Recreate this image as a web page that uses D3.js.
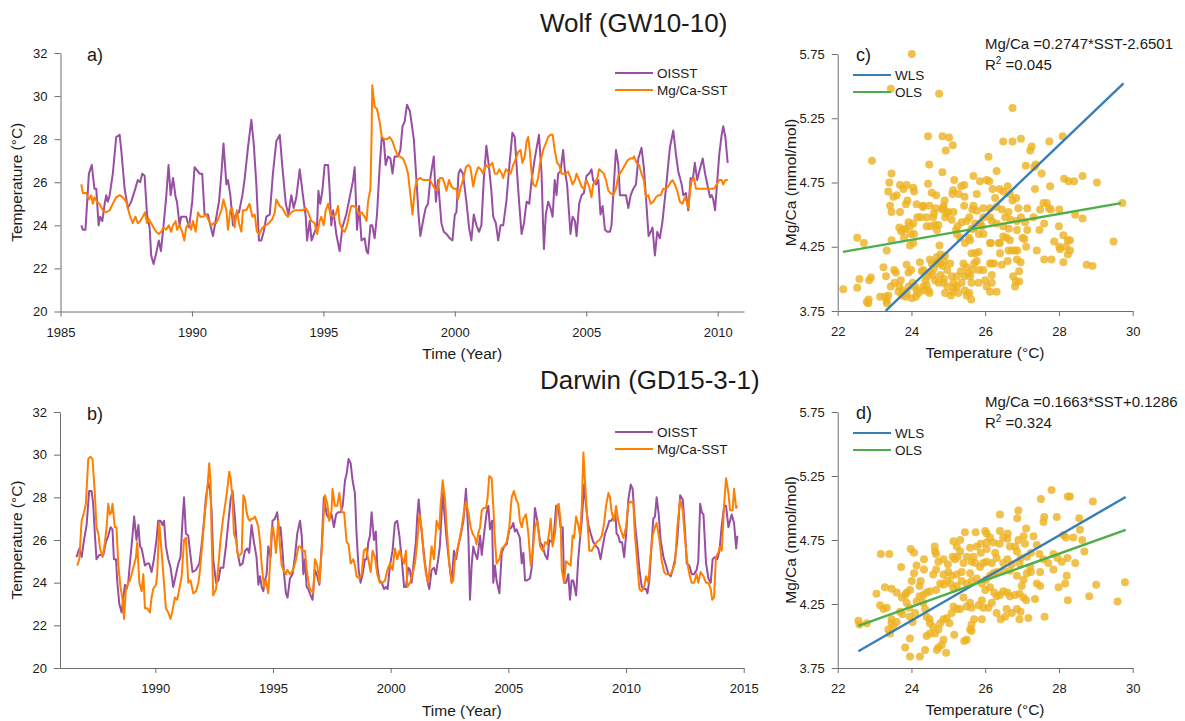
<!DOCTYPE html>
<html lang="en">
<head>
<meta charset="UTF-8">
<title>Wolf and Darwin Mg/Ca-SST</title>
<script src="https://d3js.org/d3.v7.min.js"></script>
<style>
body{margin:0;background:#fff;}
text{font-family:"Liberation Sans",Arial,Helvetica,sans-serif;fill:#1a1a1a;}
</style>
</head>
<body>
<svg id="fig" width="1185" height="721"></svg>
<script>
// ---- data: [year, temperature degC] ----
var wolfOisst = [[1985.79,24.0],[1985.85,23.8],[1985.95,23.8],[1986.08,26.4],[1986.19,26.8],[1986.29,25.7],[1986.36,25.7],[1986.45,24.0],[1986.51,24.4],[1986.59,24.2],[1986.68,25.0],[1986.74,25.4],[1986.80,25.1],[1986.87,25.4],[1986.99,26.4],[1987.12,28.1],[1987.25,28.2],[1987.31,27.5],[1987.44,25.7],[1987.56,24.8],[1987.69,25.1],[1987.82,25.6],[1987.94,26.1],[1988.03,26.0],[1988.11,26.4],[1988.20,26.3],[1988.29,24.5],[1988.39,23.9],[1988.45,22.6],[1988.54,22.2],[1988.64,22.7],[1988.74,23.3],[1988.82,22.8],[1988.92,24.0],[1989.02,25.3],[1989.11,26.8],[1989.19,25.4],[1989.28,26.2],[1989.38,25.3],[1989.43,25.1],[1989.53,24.0],[1989.59,24.4],[1989.78,24.4],[1989.89,23.9],[1990.01,25.1],[1990.10,26.7],[1990.29,26.4],[1990.39,26.4],[1990.48,24.5],[1990.61,24.5],[1990.70,24.0],[1990.80,23.5],[1990.90,24.2],[1991.03,25.1],[1991.12,26.4],[1991.20,27.8],[1991.31,25.9],[1991.37,26.1],[1991.46,25.4],[1991.56,24.0],[1991.66,24.5],[1991.79,24.6],[1991.92,25.4],[1992.00,26.1],[1992.13,27.6],[1992.26,28.9],[1992.35,27.8],[1992.45,25.9],[1992.55,23.3],[1992.64,23.3],[1992.73,23.7],[1992.83,24.4],[1992.96,24.5],[1993.08,26.4],[1993.21,27.9],[1993.34,28.2],[1993.44,26.7],[1993.57,25.0],[1993.67,24.5],[1993.78,25.4],[1993.87,24.8],[1993.97,25.3],
[1994.10,26.6],[1994.22,25.4],[1994.33,24.4],[1994.38,23.3],[1994.48,24.2],[1994.55,23.3],[1994.67,23.7],[1994.76,24.0],[1994.81,25.6],[1994.88,25.0],[1994.96,25.6],[1995.05,26.8],[1995.18,26.8],[1995.24,25.6],[1995.30,24.0],[1995.37,24.7],[1995.43,24.2],[1995.49,23.6],[1995.62,22.8],[1995.72,23.9],[1995.87,24.5],[1996.00,25.3],[1996.13,26.1],[1996.19,26.7],[1996.28,23.8],[1996.36,24.9],[1996.45,23.3],[1996.57,23.4],[1996.64,22.8],[1996.70,22.7],[1996.79,24.0],[1996.86,24.0],[1996.95,23.4],[1997.04,24.5],[1997.14,26.7],[1997.22,28.1],[1997.30,27.9],[1997.37,26.8],[1997.46,27.2],[1997.55,27.1],[1997.63,26.4],[1997.71,27.2],[1997.84,27.2],[1997.93,27.5],[1998.01,28.6],[1998.09,28.8],[1998.18,29.6],[1998.29,29.3],[1998.44,28.0],[1998.54,26.1],[1998.62,24.5],[1998.69,23.5],[1998.79,24.2],[1998.89,24.8],[1998.98,25.0],[1999.07,26.2],[1999.20,27.2],[1999.28,25.1],[1999.36,26.1],[1999.49,24.1],[1999.58,23.7],[1999.68,23.6],[1999.81,23.4],[1999.91,23.3],[2000.00,24.5],[2000.06,24.6],[2000.14,26.4],[2000.21,26.6],[2000.31,26.4],[2000.44,25.1],[2000.54,23.9],[2000.63,23.3],[2000.72,24.5],[2000.82,24.0],[2000.92,23.7],[2001.01,24.0],[2001.10,26.1],[2001.20,27.7],[2001.30,26.7],[2001.39,25.6],[2001.46,24.4],[2001.56,24.1],[2001.65,23.3],[2001.74,24.0],[2001.84,24.0],[2001.96,25.1],[2002.07,26.7],[2002.19,28.3],[2002.28,28.1],[2002.37,26.4],[2002.45,25.0],[2002.54,23.6],[2002.63,24.1],[2002.73,25.1],[2002.83,25.0],[2002.92,26.1],[2003.04,27.1],[2003.20,28.2],
[2003.30,26.4],[2003.36,23.9],[2003.39,22.9],[2003.46,24.5],[2003.55,25.1],[2003.64,24.8],[2003.72,24.4],[2003.80,26.1],[2003.87,25.4],[2003.93,26.4],[2004.02,26.5],[2004.12,27.5],[2004.19,26.5],[2004.27,25.9],[2004.35,24.5],[2004.40,23.6],[2004.48,24.4],[2004.57,24.2],[2004.63,23.5],[2004.73,25.0],[2004.82,25.4],[2004.91,25.5],[2005.01,26.3],[2005.11,26.4],[2005.20,26.6],[2005.26,26.1],[2005.37,25.9],[2005.46,26.1],[2005.54,24.5],[2005.62,24.9],[2005.71,23.8],[2005.80,23.7],[2005.90,23.7],[2005.96,24.0],[2006.05,25.9],[2006.13,27.5],[2006.22,26.8],[2006.28,25.4],[2006.38,25.4],[2006.51,25.4],[2006.60,24.8],[2006.69,25.4],[2006.79,25.7],[2006.89,25.9],[2006.98,27.1],[2007.10,27.6],[2007.19,26.7],[2007.27,25.3],[2007.37,23.5],[2007.45,23.7],[2007.52,23.9],[2007.61,22.6],[2007.70,23.7],[2007.80,23.4],[2007.90,24.2],[2008.03,25.7],[2008.18,27.6],[2008.31,28.4],[2008.41,27.3],[2008.50,26.5],[2008.63,25.9],[2008.69,25.4],[2008.79,25.5],[2008.88,24.7],[2008.97,26.2],[2009.05,26.1],[2009.13,26.9],[2009.22,26.1],[2009.32,26.6],[2009.43,27.1],[2009.52,26.4],[2009.64,25.7],[2009.71,25.3],[2009.77,25.4],[2009.83,25.2],[2009.90,24.7],[2009.96,25.7],[2010.06,27.3],[2010.15,28.2],[2010.21,28.6],[2010.29,28.1],[2010.38,26.9]];

var wolfMgSst = [[1985.79,25.9],[1985.85,25.5],[1985.98,25.5],[1986.08,25.2],[1986.17,25.4],[1986.23,25.0],[1986.29,25.3],[1986.38,25.1],[1986.48,25.0],[1986.61,24.7],[1986.74,24.6],[1986.87,24.7],[1986.99,25.0],[1987.12,25.3],[1987.25,25.4],[1987.37,25.3],[1987.50,25.1],[1987.56,24.8],[1987.65,24.4],[1987.75,24.1],[1987.85,24.4],[1987.94,24.1],[1988.03,24.2],[1988.13,24.4],[1988.21,24.6],[1988.29,24.1],[1988.36,24.3],[1988.45,24.1],[1988.54,23.9],[1988.64,23.7],[1988.74,23.6],[1988.83,23.7],[1988.92,23.9],[1989.02,23.8],[1989.12,24.0],[1989.21,23.7],[1989.28,24.0],[1989.38,24.2],[1989.43,23.8],[1989.53,24.0],[1989.63,23.7],[1989.71,23.3],[1989.78,23.9],[1989.89,24.1],[1989.97,23.8],[1990.04,24.2],[1990.14,23.7],[1990.23,24.6],[1990.32,24.4],[1990.42,24.4],[1990.54,24.5],[1990.65,24.2],[1990.74,24.0],[1990.82,24.1],[1990.93,24.1],[1991.03,24.4],[1991.12,24.7],[1991.20,25.2],[1991.31,24.7],[1991.37,23.8],[1991.46,24.7],[1991.53,24.8],[1991.62,23.9],[1991.71,24.7],[1991.79,24.1],[1991.88,23.7],[1991.94,24.7],[1992.07,24.7],[1992.19,25.0],[1992.30,24.4],[1992.39,24.5],[1992.47,23.7],[1992.57,23.6],[1992.68,23.9],[1992.80,24.0],[1992.93,24.1],[1993.06,24.3],[1993.15,24.6],[1993.21,25.2],[1993.34,24.9],[1993.44,24.8],[1993.57,24.5],[1993.65,24.4],[1993.78,24.6],[1993.91,24.7],[1994.00,24.7],
[1994.10,24.7],[1994.22,24.7],[1994.33,24.8],[1994.42,24.6],[1994.54,24.2],[1994.67,24.1],[1994.76,23.6],[1994.86,24.2],[1994.92,24.4],[1995.01,24.0],[1995.09,24.7],[1995.18,25.0],[1995.27,24.5],[1995.37,24.4],[1995.47,24.5],[1995.56,24.9],[1995.62,24.1],[1995.72,23.8],[1995.81,23.7],[1995.90,24.0],[1995.98,24.5],[1996.06,24.9],[1996.15,24.9],[1996.25,24.8],[1996.36,24.5],[1996.45,24.6],[1996.57,24.4],[1996.64,24.2],[1996.70,25.1],[1996.79,25.7],[1996.83,27.9],[1996.86,30.5],[1996.95,29.5],[1997.04,29.4],[1997.14,28.8],[1997.22,28.1],[1997.33,28.0],[1997.42,28.0],[1997.52,28.1],[1997.63,27.9],[1997.71,27.6],[1997.80,27.3],[1997.90,27.2],[1998.03,27.1],[1998.13,26.8],[1998.22,26.4],[1998.31,25.4],[1998.39,24.5],[1998.48,25.7],[1998.56,26.1],[1998.69,26.2],[1998.79,26.1],[1998.89,26.1],[1999.05,26.1],[1999.15,25.9],[1999.24,25.7],[1999.33,25.6],[1999.43,26.2],[1999.53,26.2],[1999.62,25.9],[1999.68,25.6],[1999.78,26.1],[1999.87,25.8],[1999.96,25.7],[2000.06,25.7],[2000.12,25.2],[2000.21,25.7],[2000.31,26.1],[2000.42,26.7],[2000.51,26.8],[2000.59,26.7],[2000.70,25.8],[2000.80,26.4],[2000.89,26.7],[2000.98,26.6],[2001.08,26.4],[2001.18,26.8],[2001.27,26.7],[2001.36,26.8],[2001.43,26.9],[2001.52,26.4],[2001.61,26.4],[2001.69,26.6],[2001.78,26.4],[2001.84,26.2],[2001.94,26.6],[2002.03,26.5],[2002.12,26.4],[2002.22,26.8],[2002.32,27.1],[2002.41,27.4],[2002.50,27.5],[2002.57,26.9],[2002.66,27.2],[2002.73,27.9],[2002.79,28.1],[2002.85,27.5],[2002.92,26.4],[2002.98,25.9],[2003.08,25.8],[2003.17,26.2],
[2003.23,26.8],[2003.36,27.5],[2003.46,27.8],[2003.55,28.1],[2003.64,28.2],[2003.72,28.2],[2003.80,27.5],[2003.89,26.9],[2003.97,26.8],[2004.06,26.4],[2004.12,26.4],[2004.22,26.4],[2004.31,26.5],[2004.40,26.2],[2004.48,25.9],[2004.57,26.1],[2004.63,26.4],[2004.73,26.1],[2004.82,25.8],[2004.91,25.7],[2005.01,26.1],[2005.11,25.8],[2005.20,25.3],[2005.26,25.9],[2005.33,26.0],[2005.42,26.2],[2005.49,26.6],[2005.58,26.5],[2005.67,26.4],[2005.75,26.1],[2005.84,25.6],[2005.92,25.5],[2006.03,25.4],[2006.13,25.7],[2006.22,26.3],[2006.28,26.4],[2006.38,26.6],[2006.47,26.8],[2006.56,27.0],[2006.66,27.1],[2006.76,27.1],[2006.82,27.2],[2006.91,26.9],[2007.01,26.8],[2007.10,26.4],[2007.19,26.1],[2007.27,25.3],[2007.36,25.4],[2007.45,25.0],[2007.55,25.1],[2007.65,25.3],[2007.74,25.4],[2007.83,25.4],[2007.93,25.7],[2008.03,25.7],[2008.12,25.8],[2008.21,26.0],[2008.28,26.1],[2008.37,25.9],[2008.46,25.6],[2008.56,25.1],[2008.66,25.0],[2008.75,25.3],[2008.82,25.1],[2008.88,24.8],[2008.94,25.5],[2009.01,26.1],[2009.10,26.2],[2009.17,25.7],[2009.26,25.7],[2009.39,25.7],[2009.51,25.7],[2009.64,25.7],[2009.77,25.7],[2009.86,25.7],[2009.96,25.9],[2010.06,26.1],[2010.15,26.1],[2010.21,25.9],[2010.29,26.1],[2010.38,26.1]];

var darwinOisst = [[1986.65,25.2],[1986.77,25.6],[1986.87,25.2],[1986.97,26.0],[1987.08,26.7],[1987.19,28.3],[1987.29,28.3],[1987.36,27.7],[1987.43,26.3],[1987.50,25.1],[1987.62,25.3],[1987.72,25.3],[1987.79,25.3],[1987.90,25.9],[1988.00,26.2],[1988.10,26.6],[1988.18,26.5],[1988.24,25.1],[1988.33,25.1],[1988.38,24.1],[1988.47,23.0],[1988.57,22.6],[1988.64,23.3],[1988.71,23.9],[1988.78,23.7],[1988.85,24.0],[1988.92,24.9],[1989.03,26.2],[1989.10,27.1],[1989.20,26.0],[1989.28,26.7],[1989.35,25.7],[1989.42,25.6],[1989.49,25.2],[1989.56,24.8],[1989.66,24.9],[1989.74,24.9],[1989.84,24.5],[1989.94,25.1],[1990.05,26.0],[1990.12,26.9],[1990.22,26.9],[1990.31,26.7],[1990.37,26.9],[1990.45,25.7],[1990.55,25.1],[1990.65,24.7],[1990.76,23.8],[1990.88,24.4],[1990.98,24.9],[1991.07,25.2],[1991.16,27.0],[1991.22,28.0],[1991.30,26.3],[1991.40,26.2],[1991.47,25.5],[1991.58,24.5],[1991.73,24.6],[1991.87,24.9],[1991.97,25.8],[1992.07,26.9],[1992.15,28.0],[1992.25,28.7],[1992.32,28.4],[1992.39,27.4],[1992.46,25.1],[1992.58,24.0],[1992.68,24.1],[1992.77,24.7],[1992.89,24.7],[1993.00,25.7],[1993.10,26.8],[1993.20,27.9],[1993.28,28.3],[1993.38,27.1],[1993.48,25.5],[1993.60,24.8],[1993.71,24.9],[1993.81,25.5],[1993.91,25.6],[1993.99,25.4],[1994.09,26.7],[1994.19,25.9],[1994.30,25.2],[1994.38,23.9],[1994.45,24.3],[1994.52,23.8],[1994.59,23.6],[1994.66,24.1],[1994.73,24.4],[1994.80,25.7],[1994.90,25.2],[1994.98,26.9],[1995.08,27.0],[1995.18,27.3],[1995.27,26.2],[1995.32,26.6],[1995.41,25.4],[1995.47,24.4],[1995.55,23.5],[1995.62,23.3],[1995.72,24.2],[1995.83,24.4],[1995.93,25.2],[1996.03,26.3],
[1996.15,26.9],[1996.22,26.2],[1996.29,24.4],[1996.36,25.1],[1996.43,23.8],[1996.50,23.7],[1996.60,23.4],[1996.68,23.2],[1996.78,24.6],[1996.88,24.3],[1996.97,23.9],[1997.07,25.7],[1997.16,28.0],[1997.28,27.2],[1997.39,27.0],[1997.49,27.2],[1997.59,26.6],[1997.68,27.2],[1997.77,27.3],[1997.87,27.3],[1997.96,27.6],[1998.06,28.8],[1998.13,29.1],[1998.21,29.8],[1998.30,29.6],[1998.38,28.8],[1998.48,28.2],[1998.55,26.3],[1998.64,24.6],[1998.72,24.0],[1998.81,24.4],[1998.91,25.1],[1998.98,25.1],[1999.05,25.9],[1999.12,26.2],[1999.19,27.3],[1999.29,26.0],[1999.37,26.4],[1999.43,24.8],[1999.52,24.1],[1999.62,24.0],[1999.72,23.7],[1999.80,23.8],[1999.87,23.7],[1999.97,24.8],[2000.08,25.5],[2000.18,26.8],[2000.28,26.9],[2000.37,26.2],[2000.47,25.1],[2000.57,23.8],[2000.65,23.8],[2000.75,24.7],[2000.82,24.6],[2000.89,24.0],[2000.99,25.1],[2001.07,25.9],[2001.13,27.1],[2001.19,27.9],[2001.27,26.9],[2001.36,25.9],[2001.46,24.9],[2001.56,24.1],[2001.64,23.7],[2001.74,24.6],[2001.84,24.7],[2001.92,24.4],[2002.02,25.1],[2002.09,25.7],[2002.21,28.2],[2002.31,26.9],[2002.38,26.0],[2002.49,24.9],[2002.59,24.0],[2002.69,25.5],[2002.78,25.1],[2002.87,25.7],[2002.97,26.2],[2003.09,26.9],[2003.20,28.4],[2003.30,26.3],[2003.37,23.2],[2003.44,24.8],[2003.51,25.7],[2003.58,25.4],[2003.68,25.1],[2003.80,26.2],[2003.87,25.3],[2003.97,26.3],[2004.08,27.3],[2004.15,27.6],[2004.22,26.5],[2004.31,26.9],[2004.36,24.0],[2004.43,24.8],[2004.50,24.1],[2004.62,23.5],[2004.72,25.4],[2004.82,25.7],[2004.93,25.8],[2005.04,26.5],[2005.14,26.6],[2005.21,26.8],[2005.28,26.4],[2005.35,26.5],[2005.42,26.3],[2005.49,26.1],[2005.57,24.9],[2005.64,25.4],[2005.71,24.1],[2005.78,24.1],[2005.92,24.2],[2005.99,24.7],[2006.06,26.0],[2006.13,27.5],[2006.23,26.9],
[2006.35,25.9],[2006.46,25.7],[2006.56,25.3],[2006.66,25.1],[2006.74,26.0],[2006.84,25.9],[2006.94,26.3],[2007.03,27.6],[2007.12,27.6],[2007.22,26.6],[2007.31,26.6],[2007.37,24.0],[2007.45,24.0],[2007.55,24.4],[2007.62,23.2],[2007.69,24.1],[2007.76,24.1],[2007.88,23.4],[2007.97,25.1],[2008.04,26.0],[2008.12,26.9],[2008.22,28.6],[2008.30,27.6],[2008.40,26.7],[2008.50,26.3],[2008.61,25.9],[2008.73,25.7],[2008.82,25.6],[2008.92,25.1],[2009.01,25.7],[2009.11,26.3],[2009.21,26.6],[2009.29,26.9],[2009.38,26.9],[2009.46,27.1],[2009.55,27.2],[2009.60,26.3],[2009.67,26.2],[2009.74,25.9],[2009.83,25.9],[2009.92,25.2],[2010.00,26.2],[2010.10,27.9],[2010.20,28.6],[2010.28,28.4],[2010.38,26.8],[2010.48,25.7],[2010.57,24.6],[2010.67,23.8],[2010.74,23.7],[2010.85,23.7],[2010.91,23.5],[2010.99,24.1],[2011.09,25.9],[2011.16,27.0],[2011.23,27.1],[2011.30,28.0],[2011.39,27.2],[2011.47,26.0],[2011.59,25.2],[2011.70,24.8],[2011.80,24.4],[2011.90,24.3],[2011.98,24.6],[2012.08,25.1],[2012.18,26.0],[2012.30,28.1],[2012.41,27.9],[2012.51,26.4],[2012.58,24.9],[2012.69,24.8],[2012.79,24.4],[2012.89,24.4],[2013.00,24.6],[2013.07,25.0],[2013.15,27.7],[2013.22,27.3],[2013.29,27.2],[2013.40,24.9],[2013.50,24.2],[2013.60,24.0],[2013.68,25.1],[2013.78,25.2],[2013.88,25.1],[2013.97,25.5],[2014.07,26.7],[2014.17,27.6],[2014.25,27.6],[2014.35,26.6],[2014.42,26.9],[2014.49,27.2],[2014.59,26.8],[2014.68,25.6],[2014.73,26.2]];

var darwinMgSst = [[1986.68,24.8],[1986.77,25.1],[1986.87,26.9],[1986.97,27.3],[1987.05,27.7],[1987.15,29.8],[1987.25,29.9],[1987.33,29.8],[1987.43,28.2],[1987.50,26.6],[1987.58,26.3],[1987.65,25.6],[1987.76,25.2],[1987.86,25.9],[1987.93,26.6],[1988.00,27.7],[1988.07,27.2],[1988.14,27.3],[1988.18,27.7],[1988.28,26.6],[1988.35,26.6],[1988.43,24.8],[1988.52,23.8],[1988.61,23.2],[1988.67,22.3],[1988.75,23.7],[1988.85,24.0],[1988.92,24.1],[1988.99,24.4],[1989.09,24.8],[1989.18,25.2],[1989.23,25.9],[1989.32,24.0],[1989.42,23.6],[1989.49,24.4],[1989.56,22.8],[1989.66,22.8],[1989.77,22.6],[1989.84,23.3],[1989.91,23.7],[1990.03,23.9],[1990.08,24.4],[1990.17,26.8],[1990.27,25.4],[1990.34,24.4],[1990.45,22.8],[1990.55,22.6],[1990.65,22.3],[1990.73,22.7],[1990.83,23.3],[1990.93,23.2],[1991.02,23.7],[1991.12,24.3],[1991.22,26.0],[1991.30,26.1],[1991.40,24.0],[1991.50,24.1],[1991.61,23.5],[1991.73,23.6],[1991.83,24.0],[1991.90,24.6],[1992.01,26.0],[1992.11,27.3],[1992.21,28.4],[1992.29,29.6],[1992.35,28.7],[1992.39,26.3],[1992.46,23.4],[1992.58,23.7],[1992.68,24.8],[1992.77,26.0],[1992.89,27.1],[1992.96,27.6],[1993.06,28.4],[1993.14,29.2],[1993.20,28.9],[1993.28,27.9],[1993.34,26.3],[1993.43,26.0],[1993.52,25.2],[1993.60,25.3],[1993.67,25.4],[1993.74,28.1],[1993.81,27.9],[1993.88,27.3],[1993.95,27.0],[1994.02,26.9],[1994.09,27.0],[1994.16,27.0],[1994.23,27.1],[1994.30,26.9],[1994.38,26.6],[1994.45,25.9],[1994.52,24.8],[1994.62,23.8],[1994.70,24.1],[1994.80,23.5],[1994.87,24.8],[1994.94,26.5],[1995.01,26.6],[1995.13,25.4],[1995.22,26.9],[1995.30,25.7],[1995.37,24.8],[1995.44,24.6],[1995.55,24.4],[1995.61,24.6],[1995.72,24.4],[1995.86,24.6],[1995.98,25.1],[1996.08,25.7],
[1996.15,25.7],[1996.26,25.5],[1996.36,25.5],[1996.43,24.6],[1996.54,23.8],[1996.64,23.6],[1996.71,23.5],[1996.78,25.1],[1996.88,24.8],[1996.97,24.0],[1997.07,25.5],[1997.14,26.9],[1997.21,28.1],[1997.31,27.7],[1997.39,26.9],[1997.49,27.4],[1997.53,28.4],[1997.63,27.6],[1997.73,27.6],[1997.82,28.2],[1997.92,27.3],[1998.02,27.3],[1998.13,25.9],[1998.21,25.8],[1998.30,24.9],[1998.41,25.1],[1998.48,24.8],[1998.55,24.3],[1998.67,24.2],[1998.77,24.4],[1998.86,25.5],[1998.95,25.6],[1999.05,25.1],[1999.15,24.5],[1999.23,25.5],[1999.33,25.2],[1999.43,24.4],[1999.54,24.0],[1999.66,24.0],[1999.76,24.1],[1999.86,24.6],[1999.97,24.9],[2000.08,24.6],[2000.18,25.6],[2000.28,25.1],[2000.37,25.5],[2000.47,25.2],[2000.57,24.9],[2000.65,25.5],[2000.71,23.8],[2000.82,24.0],[2000.93,24.4],[2001.03,24.9],[2001.13,25.9],[2001.22,27.2],[2001.32,26.5],[2001.39,25.4],[2001.50,24.4],[2001.60,24.0],[2001.67,24.9],[2001.74,25.7],[2001.84,25.1],[2001.95,26.9],[2002.07,26.5],[2002.12,27.6],[2002.21,28.8],[2002.31,27.9],[2002.38,26.6],[2002.49,24.9],[2002.59,24.0],[2002.66,24.1],[2002.73,25.1],[2002.80,25.4],[2002.92,26.0],[2003.02,26.6],[2003.11,27.3],[2003.20,27.8],[2003.30,27.3],[2003.40,26.6],[2003.48,26.3],[2003.58,26.1],[2003.65,25.8],[2003.72,26.3],[2003.80,26.6],[2003.87,27.4],[2003.96,27.5],[2004.05,27.5],[2004.11,27.9],[2004.19,29.0],[2004.29,28.9],[2004.36,27.6],[2004.43,26.0],[2004.50,24.9],[2004.62,25.1],[2004.72,25.6],[2004.82,25.7],[2004.93,25.9],[2005.04,26.6],[2005.14,28.0],[2005.24,28.3],[2005.33,27.9],[2005.42,27.7],[2005.49,26.9],[2005.57,26.6],[2005.64,27.0],[2005.75,27.2],[2005.85,26.3],[2005.95,24.8],[2006.03,25.4],[2006.13,26.6],[2006.23,26.9],
[2006.35,25.7],[2006.46,25.5],[2006.56,25.9],[2006.66,25.8],[2006.74,26.4],[2006.80,27.0],[2006.88,25.7],[2006.98,26.3],[2007.08,27.6],[2007.14,27.7],[2007.22,26.9],[2007.27,24.6],[2007.37,24.0],[2007.45,25.0],[2007.55,24.9],[2007.65,24.8],[2007.73,26.2],[2007.79,26.1],[2007.88,27.1],[2007.97,26.7],[2008.05,26.2],[2008.12,27.6],[2008.19,30.1],[2008.26,28.7],[2008.33,27.4],[2008.44,25.5],[2008.54,25.5],[2008.64,25.7],[2008.75,25.9],[2008.87,26.0],[2008.97,26.2],[2009.07,26.8],[2009.15,27.6],[2009.25,28.2],[2009.32,28.0],[2009.39,27.3],[2009.49,26.9],[2009.58,27.6],[2009.67,26.9],[2009.77,26.5],[2009.89,26.1],[2010.00,26.6],[2010.10,27.7],[2010.20,27.8],[2010.31,27.7],[2010.38,26.2],[2010.48,24.9],[2010.57,23.7],[2010.67,23.6],[2010.77,23.8],[2010.85,24.3],[2010.95,24.0],[2011.02,25.0],[2011.13,26.2],[2011.23,26.6],[2011.30,26.8],[2011.42,26.0],[2011.52,25.0],[2011.62,24.5],[2011.70,24.4],[2011.80,24.4],[2011.90,24.4],[2011.98,24.6],[2012.08,24.9],[2012.18,26.6],[2012.30,27.9],[2012.41,27.4],[2012.51,26.0],[2012.61,24.9],[2012.69,24.4],[2012.79,24.0],[2012.89,24.0],[2013.00,24.4],[2013.07,24.0],[2013.17,24.5],[2013.29,24.3],[2013.40,24.0],[2013.50,24.0],[2013.60,23.7],[2013.66,23.2],[2013.74,23.3],[2013.82,25.2],[2013.92,25.4],[2013.99,25.7],[2014.07,25.5],[2014.17,27.7],[2014.25,28.9],[2014.35,28.2],[2014.42,27.4],[2014.53,27.4],[2014.59,28.4],[2014.68,27.5],[2014.73,27.6]];

// ---- data: [temperature degC, Mg/Ca mmol/mol] ----
var wolfPts = [[24.01,5.75],[23.44,5.48],[24.75,5.44],[26.74,5.33],[22.93,4.92],[24.45,5.11],[24.84,5.11],[25.02,5.10],[25.12,5.04],[26.49,5.07],[26.74,5.07],[26.97,5.09],[27.26,5.03],[27.74,5.07],[28.10,5.11],[26.09,4.95],[24.93,5.00],[24.48,4.89],[24.84,4.83],[23.46,4.82],[26.31,4.84],[27.10,4.88],[27.37,4.89],[27.22,5.00],[27.53,4.82],
[23.37,4.68],[23.40,4.75],[23.69,4.73],[23.87,4.73],[24.05,4.71],[24.07,4.68],[23.60,4.65],[23.78,4.70],[23.89,4.61],[23.51,4.64],[23.42,4.57],[23.46,4.52],[23.69,4.52],[23.85,4.58],[24.14,4.58],[24.32,4.57],[24.45,4.74],[24.55,4.67],[24.67,4.65],[24.66,4.55],[24.83,4.54],[24.87,4.57],[25.00,4.52],[25.16,4.77],[25.43,4.73],[25.35,4.72],[25.13,4.69],[25.11,4.66],[25.28,4.66],[25.43,4.57],[25.44,4.64],[25.68,4.80],[25.77,4.66],[25.86,4.76],[26.04,4.77],[26.11,4.76],[26.20,4.70],[26.27,4.63],[26.39,4.70],[26.49,4.68],[26.61,4.72],[26.67,4.66],[26.74,4.61],[26.84,4.63],[26.90,4.55],[27.14,4.55],[27.33,4.87],[27.35,4.70],[27.76,4.72],[28.14,4.78],[28.26,4.76],[28.41,4.76],[28.64,4.80],[29.03,4.75],[27.73,4.55],[27.58,4.59],[27.67,4.59],[27.49,4.54],[25.68,4.57],[25.65,4.54],[25.77,4.53],[25.95,4.55],[26.13,4.55],[26.31,4.56],
[22.53,4.32],[22.71,4.28],[23.46,4.30],[23.80,4.32],[23.98,4.35],[24.05,4.28],[23.96,4.26],[23.72,4.37],[23.67,4.40],[23.78,4.38],[23.83,4.39],[23.92,4.44],[23.96,4.41],[24.41,4.48],[24.52,4.41],[24.64,4.42],[24.73,4.42],[24.91,4.48],[25.09,4.46],[25.14,4.52],[25.25,4.41],[25.36,4.44],[25.50,4.45],[25.57,4.48],[25.63,4.39],[25.73,4.43],[25.86,4.43],[25.95,4.48],[26.13,4.48],[26.18,4.45],[26.31,4.43],[26.45,4.54],[26.54,4.48],[26.63,4.52],[26.69,4.46],[26.86,4.45],[26.97,4.48],[27.08,4.44],[27.14,4.38],[27.31,4.48],[27.47,4.38],[27.60,4.43],[27.78,4.54],[28.00,4.41],[28.01,4.54],[28.44,4.50],[28.64,4.47],[29.72,4.59],[29.48,4.29],[28.12,4.34],[28.24,4.30],[28.30,4.30],[27.87,4.29],[28.03,4.23],[28.19,4.25],[28.30,4.22],[27.60,4.15],[28.12,4.13],[28.75,4.11],[28.91,4.10],[28.24,4.19],
[22.15,3.92],[22.53,3.93],[22.59,4.00],[22.85,3.99],[22.90,4.01],[22.84,3.84],[23.24,4.09],[23.31,4.02],[23.33,4.22],[23.29,3.86],[23.33,3.83],[23.44,3.94],[23.53,4.07],[23.58,4.05],[23.67,3.94],[23.65,3.90],[23.71,3.99],[23.76,3.91],[23.87,4.11],[23.92,4.05],[23.99,4.07],[23.85,3.86],[24.01,3.85],[24.12,3.86],[24.14,3.91],[24.23,4.13],[24.28,4.06],[24.32,3.94],[24.41,3.95],[24.46,3.91],[24.49,3.89],[24.38,3.99],[24.43,4.02],[24.50,4.05],[24.58,4.03],[24.61,4.08],[24.67,4.12],[24.73,4.14],[24.69,4.17],[24.78,4.12],[24.79,4.19],[24.85,4.10],[24.88,4.14],[24.88,4.00],[24.97,4.07],[24.91,4.18],[25.05,4.12],[25.09,4.02],[25.14,3.97],[25.16,3.93],[25.23,3.94],[25.27,3.89],[25.36,3.97],[25.41,4.12],[25.44,4.02],[25.50,4.09],[25.54,4.04],[25.59,4.02],[25.66,4.07],[25.63,4.20],[25.70,4.12],[25.73,4.20],[25.63,3.97],[25.57,3.89],[25.62,3.84],[25.77,4.14],[25.82,4.21],[26.00,3.99],[26.13,4.12],[26.15,4.28],[26.18,4.03],[26.13,3.90],[26.31,3.90],[26.24,4.12],[26.40,4.28],[26.40,4.20],[26.45,4.11],[26.61,4.14],[26.63,4.22],[26.72,4.22],[26.81,4.22],[26.67,4.30],[26.76,4.02],[26.81,3.94],[26.83,3.98],[26.92,4.06],[26.86,4.15],[26.87,4.22],[27.01,4.32],[26.96,4.13],[26.92,3.98],
[24.05,4.43],[24.07,4.35],[24.16,4.48],[24.25,4.48],[24.31,4.56],[24.41,4.41],[24.49,4.57],[24.59,4.48],[24.61,4.51],[24.69,4.38],[24.76,4.26],[24.86,4.55],[24.90,4.61],[24.96,4.51],[25.21,4.38],[25.23,4.35],[25.32,4.32],[25.45,4.28],[25.56,4.32],[25.59,4.30],[25.68,4.39],[25.83,4.35],[25.91,4.41],[25.95,4.35],[26.13,4.28],[26.36,4.28],[26.49,4.33],[26.58,4.32],[26.49,4.41],[26.64,4.39],[26.86,4.38],[27.06,4.31],[27.11,4.25],[27.40,4.22],[27.80,4.15],[28.01,4.25],
[22.79,3.82],[22.83,3.81],[23.15,3.86],[23.33,3.81],[23.37,3.87],[23.54,3.97],[23.74,3.87],[23.87,3.89],[23.93,3.94],[24.03,3.97],[24.10,3.94],[24.19,3.89],[24.32,4.07],[24.34,3.91],[24.50,4.15],[24.55,4.12],[24.64,3.99],[24.73,3.97],[24.79,4.03],[24.87,3.97],[24.91,3.89],[24.97,3.94],[25.07,3.87],[25.12,3.90],[25.23,4.02],[25.34,4.06],[25.45,3.91],[25.50,3.87],[25.82,3.97],[25.84,4.07],[25.95,4.07],[26.04,3.94],[26.18,4.12],[26.18,3.97]];

var darwinPts = [[27.80,5.14],[27.51,5.07],[28.24,5.09],[28.30,5.09],[28.92,5.05],[26.90,4.98],[27.60,4.93],[27.94,4.93],[26.87,4.92],[26.40,4.95],[28.55,4.92],[27.58,4.89],[27.11,4.84],[26.61,4.80],[26.90,4.75],[27.31,4.78],[28.12,4.79],[28.57,4.83],[28.19,4.77],[28.39,4.77],[28.63,4.75],[28.69,4.66],[27.08,4.72],[27.40,4.71],[27.04,4.78],[26.40,4.82],[26.49,4.77],[26.60,4.76],[26.67,4.70],[26.81,4.70],[26.86,4.66],[26.39,4.72],[26.22,4.73],[26.13,4.77],[26.04,4.80],[26.00,4.82],[25.74,4.81],[25.45,4.81],[25.32,4.75],[25.23,4.70],[25.32,4.66],[25.59,4.69],[25.77,4.70],[25.88,4.72],[26.04,4.73],[26.27,4.65],[26.04,4.68],[25.88,4.65],[25.68,4.62],[25.63,4.58],[25.50,4.62],[25.41,4.57],[25.12,4.62],[25.18,4.60],[24.99,4.56],[24.87,4.60],[24.73,4.58],[24.64,4.66],[25.00,4.50],[24.67,4.52],[24.59,4.48],[24.87,4.48],[25.09,4.47],[25.23,4.48],[25.36,4.50],[25.59,4.49],[25.73,4.57],[25.86,4.54],[25.95,4.57],[26.04,4.58],[26.18,4.57],[26.31,4.61],[26.49,4.57],[26.60,4.60],[26.72,4.56],[26.93,4.57],[26.96,4.61],[27.13,4.62],[27.24,4.65],[27.47,4.64],[27.58,4.60],[27.71,4.57],[27.85,4.64],[27.96,4.61],[28.08,4.58],[28.23,4.61],[28.44,4.57],[27.85,4.52],[27.49,4.50],[27.22,4.54],[27.24,4.50],[27.13,4.49],[27.04,4.44],[26.86,4.47],[26.67,4.51],[26.49,4.51],[26.31,4.50],[26.22,4.49],[26.13,4.47],[26.02,4.44],[25.91,4.41],[25.77,4.45],[25.63,4.43],[25.50,4.41],[25.36,4.43],[25.23,4.39],[25.14,4.37],[25.05,4.41],[24.96,4.43],[24.87,4.40],[24.78,4.41],[24.67,4.36],[24.50,4.35],[24.41,4.34],[24.32,4.32],[24.22,4.39],[24.25,4.43],[24.07,4.49],[24.01,4.43],[23.96,4.36],[23.87,4.34],[23.83,4.32],[23.74,4.30],[23.60,4.34],[23.46,4.37],[23.28,4.38],[23.17,4.64],[23.40,4.64],[23.72,4.54],[23.98,4.68],[24.07,4.65],[24.14,4.55],[24.34,4.60],[24.34,4.52],[24.63,4.70],[24.67,4.64],[25.14,4.74],[25.25,4.62],
[22.56,4.12],[22.59,4.09],[22.79,4.10],[23.05,4.33],[23.15,4.24],[23.24,4.21],[23.33,4.22],[23.37,4.05],[23.42,4.02],[23.46,4.13],[23.51,4.07],[23.60,4.11],[23.69,4.19],[23.76,4.17],[23.87,4.26],[23.94,4.22],[23.96,4.15],[24.03,4.11],[24.10,4.18],[24.14,4.27],[24.22,4.31],[24.32,4.26],[24.37,4.21],[24.41,4.15],[24.49,4.13],[24.50,4.10],[24.59,4.07],[24.64,4.02],[24.41,4.00],[24.50,4.02],[24.73,4.05],[24.78,4.10],[24.87,4.13],[24.96,4.14],[25.03,4.10],[25.09,4.18],[25.14,4.23],[25.23,4.21],[25.32,4.21],[25.41,4.30],[25.50,4.23],[25.59,4.26],[25.63,4.22],[25.70,4.13],[25.63,4.09],[25.59,4.05],[25.63,4.04],[25.50,3.97],[25.43,3.96],[25.16,4.01],[24.87,3.97],[24.82,3.93],[24.73,3.91],[24.69,3.89],[24.94,3.87],[24.37,3.89],[24.23,3.84],[23.96,3.84],[23.83,3.91],[23.96,3.98],[23.46,4.10],
[25.91,4.28],[26.00,4.36],[26.13,4.38],[26.24,4.34],[26.31,4.31],[26.40,4.32],[26.49,4.35],[26.60,4.34],[26.67,4.31],[26.81,4.32],[26.93,4.33],[26.99,4.39],[27.04,4.30],[26.96,4.19],[26.86,4.21],[26.72,4.18],[26.58,4.21],[26.54,4.15],[26.42,4.13],[26.31,4.18],[26.18,4.26],[26.09,4.22],[25.95,4.22],[25.82,4.24],[25.91,4.13],[26.93,4.13],[27.17,4.14],[27.11,4.28],[27.35,4.29],[27.61,4.15],[27.49,4.39],[27.40,4.41],[27.99,4.38],[28.24,4.28],[28.82,4.31],[29.01,4.40],[29.79,4.42],[29.59,4.27],[28.17,4.41],[28.21,4.47]];

// regression fits: WLS as [slope, intercept] over an SST range, OLS as two end points
var wolfWls = [0.2747, -2.6501], wolfWlsRange = [23.3, 29.75];
var wolfOls = [[22.14, 4.21], [29.68, 4.59]];
var darwinWls = [0.1663, 0.1286], darwinWlsRange = [22.56, 29.81];
var darwinOls = [[22.56, 4.08], [29.81, 4.83]];

var tempTicks = [20, 22, 24, 26, 28, 30, 32];
var mgTicks = [3.75, 4.25, 4.75, 5.25, 5.75];
var sstTicks = [22, 24, 26, 28, 30];

var purple = "#984EA3", orange = "#FF7F00", blue = "#377EB8", green = "#4DAF4A", gold = "#EDB120";
var svg = d3.select("#fig");

function styleAxis(g) {
    g.selectAll("path, line").attr("stroke", "#6e6e6e");
    g.selectAll("text").attr("fill", "#1a1a1a").style("font-size", "13px")
        .style("font-family", "'Liberation Sans', Arial, sans-serif");
}

function legend(x, y, items) {
    items.forEach(function (it, i) {
        var yy = y + i * 17;
        svg.append("line").attr("x1", x).attr("x2", x + 38).attr("y1", yy).attr("y2", yy)
            .attr("stroke", it[1]).attr("stroke-width", 2.2);
        svg.append("text").attr("x", x + 42).attr("y", yy + 5).style("font-size", "13.5px").text(it[0]);
    });
}

function timePanel(p) {
    var x = d3.scaleLinear().domain(p.xDom).range([p.left, p.right]);
    var y = d3.scaleLinear().domain([20, 32]).range([p.bottom, p.top]);

    svg.append("g").attr("transform", "translate(0," + p.bottom + ")")
        .call(d3.axisBottom(x).tickValues(p.xTicks).tickFormat(d3.format("d"))
            .tickSize(5).tickPadding(11).tickSizeOuter(0))
        .call(styleAxis);
    svg.append("g").attr("transform", "translate(" + p.left + ",0)")
        .call(d3.axisLeft(y).tickValues(tempTicks).tickSize(6).tickPadding(7).tickSizeOuter(0))
        .call(styleAxis);

    var line = d3.line().x(function (d) { return x(d[0]); }).y(function (d) { return y(d[1]); });
    svg.append("path").datum(p.oisst).attr("d", line).attr("fill", "none")
        .attr("stroke", purple).attr("stroke-width", 2).attr("stroke-linejoin", "round");
    svg.append("path").datum(p.mg).attr("d", line).attr("fill", "none")
        .attr("stroke", orange).attr("stroke-width", 2).attr("stroke-linejoin", "round");

    svg.append("text").attr("x", 87).attr("y", p.top + 8).style("font-size", "18px").text(p.tag);
    legend(615, p.top + 20, [["OISST", purple], ["Mg/Ca-SST", orange]]);

    svg.append("text").attr("x", (p.left + p.right) / 2 + 60).attr("y", p.bottom + 47.5)
        .attr("text-anchor", "middle").style("font-size", "15.5px").text("Time (Year)");
    svg.append("text").attr("transform", "translate(22," + (p.top + p.bottom) / 2 + ") rotate(-90)")
        .attr("text-anchor", "middle").style("font-size", "15.5px").text("Temperature (\u00B0C)");
}

function scatterPanel(p) {
    var x = d3.scaleLinear().domain([22, 30]).range([837.7, 1132.7]);
    var y = d3.scaleLinear().domain([3.75, 5.75]).range([p.bottom, p.top]);

    svg.append("g").attr("transform", "translate(0," + p.bottom + ")")
        .call(d3.axisBottom(x).tickValues(sstTicks).tickSize(5).tickPadding(11).tickSizeOuter(0))
        .call(styleAxis);
    svg.append("g").attr("transform", "translate(837.7,0)")
        .call(d3.axisLeft(y).tickValues(mgTicks).tickFormat(d3.format(".2f"))
            .tickSize(6).tickPadding(7).tickSizeOuter(0))
        .call(styleAxis);

    svg.append("g").selectAll("circle").data(p.pts).enter().append("circle")
        .attr("cx", function (d) { return x(d[0]); })
        .attr("cy", function (d) { return y(d[1]); })
        .attr("r", 4).attr("fill", gold).attr("fill-opacity", 0.8);

    var line = d3.line().x(function (d) { return x(d[0]); }).y(function (d) { return y(d[1]); });
    var wls = p.wlsRange.map(function (t) { return [t, p.wls[0] * t + p.wls[1]]; });
    svg.append("path").datum(wls).attr("d", line).attr("stroke", blue).attr("stroke-width", 2.4).attr("fill", "none");
    svg.append("path").datum(p.ols).attr("d", line).attr("stroke", green).attr("stroke-width", 2.4).attr("fill", "none");

    svg.append("text").attr("x", 856).attr("y", p.top + 7).style("font-size", "18px").text(p.tag);
    legend(853, p.top + 21, [["WLS", blue], ["OLS", green]]);

    svg.append("text").attr("x", 985).attr("y", p.top - 5.5).style("font-size", "15px").text(p.eq);
    var r2 = svg.append("text").attr("x", 985).attr("y", p.top + 16).style("font-size", "15px");
    r2.append("tspan").text("R");
    r2.append("tspan").attr("dy", -6).style("font-size", "10px").text("2");
    r2.append("tspan").attr("dy", 6).text(" =" + p.r2);

    svg.append("text").attr("x", 985).attr("y", p.bottom + 46.5)
        .attr("text-anchor", "middle").style("font-size", "15.5px").text("Temperature (\u00B0C)");
    svg.append("text").attr("transform", "translate(796," + (p.top + p.bottom) / 2 + ") rotate(-90)")
        .attr("text-anchor", "middle").style("font-size", "15.5px").text("Mg/Ca (mmol/mol)");
}

// titles
svg.append("text").attr("x", 540).attr("y", 31.5).style("font-size", "26px").text("Wolf (GW10-10)");
svg.append("text").attr("x", 540).attr("y", 388.5).style("font-size", "26px").text("Darwin (GD15-3-1)");

timePanel({ xDom: [1985, 2011], left: 60.5, right: 744, top: 53, bottom: 311.5,
    xTicks: [1985, 1990, 1995, 2000, 2005, 2010], oisst: wolfOisst, mg: wolfMgSst, tag: "a)" });
timePanel({ xDom: [1985.95, 2015], left: 60, right: 743.7, top: 412, bottom: 668,
    xTicks: [1990, 1995, 2000, 2005, 2010, 2015], oisst: darwinOisst, mg: darwinMgSst, tag: "b)" });

scatterPanel({ top: 54, bottom: 311, pts: wolfPts, wls: wolfWls, wlsRange: wolfWlsRange, ols: wolfOls,
    tag: "c)", eq: "Mg/Ca =0.2747*SST-2.6501", r2: "0.045" });
scatterPanel({ top: 412, bottom: 668, pts: darwinPts, wls: darwinWls, wlsRange: darwinWlsRange, ols: darwinOls,
    tag: "d)", eq: "Mg/Ca =0.1663*SST+0.1286", r2: "0.324" });
</script>
</body>
</html>
